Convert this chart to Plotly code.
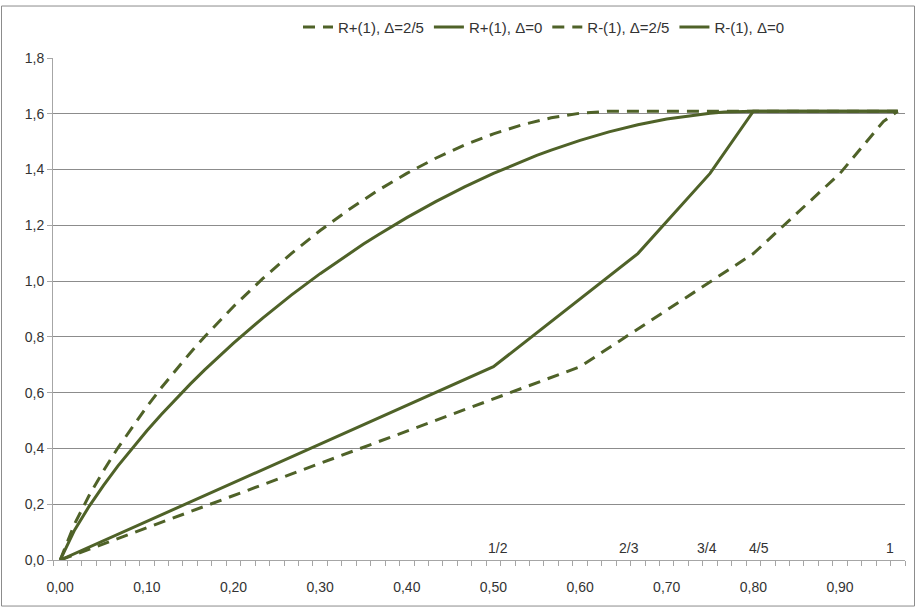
import plotly.graph_objects as go

# Category spacing of the horizontal axis (one category per 1/60)
STEP = 1 / 60

# R+(1), Δ=0 : category index and value
rp0_k = [0, 1, 2, 3, 4, 5, 6, 7, 8, 9, 10, 12, 14, 15, 16, 18, 20, 21, 22, 24, 26, 27, 28,
         30, 32, 33, 34, 36, 38, 39, 40, 42, 44, 45, 46, 48, 58]
rp0_y = [0, 0.1079, 0.1924, 0.2678, 0.3374, 0.4024, 0.4637, 0.5220, 0.5775, 0.6307, 0.6816,
         0.7777, 0.8667, 0.9089, 0.9496, 1.0268, 1.0986, 1.1327, 1.1655, 1.2275, 1.2850, 1.3120, 1.3379,
         1.3863, 1.4303, 1.4506, 1.4698, 1.5048, 1.5351, 1.5485, 1.5607, 1.5813, 1.5965, 1.6021, 1.6061,
         1.6094, 1.6094]

# R+(1), Δ=2/5
rp25_k = [0, 1, 2, 3, 4, 5, 6, 7, 8, 9, 10, 12, 14, 16, 18, 20, 22, 24, 26, 28, 30, 32, 34, 36,
          38, 39, 58]
rp25_y = [0, 0.1302, 0.2310, 0.3204, 0.4024, 0.4786, 0.5501, 0.6176, 0.6816, 0.7425, 0.8006,
          0.9089, 1.0080, 1.0986, 1.1814, 1.2568, 1.3251, 1.3863, 1.4406, 1.4879, 1.5280, 1.5607,
          1.5856, 1.6021, 1.6092, 1.6094, 1.6094]

# R-(1), Δ=0
rm0_k = [0, 30, 40, 45, 48, 58]
rm0_y = [0, 0.6931, 1.0986, 1.3863, 1.6094, 1.6094]

# R-(1), Δ=2/5
rm25_k = [0, 36, 48, 54, 57, 58]
rm25_y = [0, 0.6931, 1.0986, 1.3863, 1.5722, 1.6094]

# Fraction labels along the bottom of the plot
frac_text = ["1/2", "2/3", "3/4", "4/5", "1"]
frac_x = [0.505, 0.656, 0.746, 0.806, 0.958]

x_ticks = [0.0, 0.1, 0.2, 0.3, 0.4, 0.5, 0.6, 0.7, 0.8, 0.9]
y_ticks = [0.0, 0.2, 0.4, 0.6, 0.8, 1.0, 1.2, 1.4, 1.6, 1.8]

COLOR = "#4F6228"
FONT = "Liberation Sans"
TEXT = "#333333"
GRID = "#8C8C8C"
FS = 14


def cat_x(ks):
    return [k * STEP for k in ks]


series = [
    ("R+(1), Δ=2/5", rp25_k, rp25_y, "12px,8px"),
    ("R+(1), Δ=0", rp0_k, rp0_y, "solid"),
    ("R-(1), Δ=2/5", rm25_k, rm25_y, "12px,8px"),
    ("R-(1), Δ=0", rm0_k, rm0_y, "solid"),
]

fig = go.Figure()
for name, ks, ys, dash in series:
    fig.add_trace(go.Scatter(
        x=cat_x(ks), y=ys, name=name, mode="lines",
        line=dict(color=COLOR, width=3, dash=dash),
        cliponaxis=False,
    ))

for t, xv in zip(frac_text, frac_x):
    fig.add_annotation(x=xv, y=0, xref="x", yref="y", text=t, showarrow=False,
                       yanchor="bottom", yshift=2,
                       font=dict(family=FONT, size=FS, color=TEXT))

# Outer frame of the chart area
L, R, T, B = 53, 11, 53, 49
W, H = 916, 609
pw, ph = W - L - R, H - T - B
fig.add_shape(type="rect", xref="paper", yref="paper",
              x0=(1.5 - L) / pw, x1=(W - 1.5 - L) / pw,
              y0=(H - B - (H - 2.5)) / ph, y1=(H - B - 0.5) / ph,
              line=dict(color="#8C8C8C", width=1), fillcolor="rgba(0,0,0,0)", layer="below")

fig.update_layout(
    width=W, height=H,
    margin=dict(l=L, r=R, t=T, b=B, pad=0),
    paper_bgcolor="white", plot_bgcolor="white",
    separators=",.",
    font=dict(family=FONT, size=FS, color=TEXT),
    showlegend=True,
    legend=dict(orientation="h", x=(544 - L) / pw, xanchor="center", y=(H - B - 22) / ph,
                yanchor="middle", font=dict(family=FONT, size=15, color=TEXT),
                bgcolor="rgba(0,0,0,0)", itemwidth=30),
    xaxis=dict(
        range=[-STEP / 2, 58 * STEP + STEP / 2],
        tickmode="array", tickvals=x_ticks, tickformat=".2f",
        ticks="", showgrid=False, zeroline=False,
        showline=True, linecolor="#A6A6A6", linewidth=1,
        ticklabelstandoff=14,
        minor=dict(ticks="outside", ticklen=5, tickcolor="#A6A6A6", tick0=-STEP / 2, dtick=STEP,
                   showgrid=False),
        tickfont=dict(family=FONT, size=FS, color=TEXT),
        fixedrange=True,
    ),
    yaxis=dict(
        range=[0, 1.8], tickmode="array", tickvals=y_ticks, tickformat=".1f",
        ticks="outside", ticklen=5, tickcolor="#A6A6A6",
        showgrid=True, gridcolor=GRID, gridwidth=1, zeroline=False,
        showline=True, linecolor="#A6A6A6", linewidth=1,
        tickfont=dict(family=FONT, size=FS, color=TEXT),
        fixedrange=True,
    ),
)

fig.write_html("out.html")
